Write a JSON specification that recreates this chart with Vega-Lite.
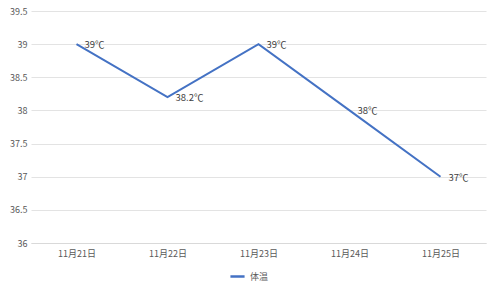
{
  "$schema": "https://vega.github.io/schema/vega-lite/v6.json",
  "width": 455,
  "height": 232,
  "autosize": {"type": "none"},
  "padding": {"left": 31, "top": 11, "right": 14, "bottom": 47},
  "background": "white",
  "config": {
    "view": {"stroke": null},
    "font": "Noto Sans CJK SC",
    "axis": {"labelFont": "Noto Sans CJK SC", "labelColor": "#595959", "labelFontSize": 9}
  },
  "data": {
    "values": [
      {"date": "11月21日", "temp": 39, "label": "39℃", "series": "体温"},
      {"date": "11月22日", "temp": 38.2, "label": "38.2℃", "series": "体温"},
      {"date": "11月23日", "temp": 39, "label": "39℃", "series": "体温"},
      {"date": "11月24日", "temp": 38, "label": "38℃", "series": "体温"},
      {"date": "11月25日", "temp": 37, "label": "37℃", "series": "体温"}
    ]
  },
  "encoding": {
    "x": {
      "field": "date", "type": "ordinal", "sort": null,
      "scale": {"type": "point", "padding": 0.5},
      "axis": {"title": null, "labelAngle": 0, "ticks": false, "domain": true, "domainColor": "#d9d9d9", "labelPadding": 6, "grid": false}
    },
    "y": {
      "field": "temp", "type": "quantitative",
      "scale": {"domain": [36, 39.5], "zero": false, "nice": false},
      "axis": {"title": null, "format": "~g", "values": [36, 36.5, 37, 37.5, 38, 38.5, 39, 39.5], "ticks": false, "domain": false, "gridColor": "#e3e3e3", "labelPadding": 4}
    }
  },
  "layer": [
    {
      "mark": {"type": "line", "strokeWidth": 2},
      "encoding": {
        "color": {
          "field": "series", "type": "nominal",
          "scale": {"range": ["#4472C4"]},
          "legend": {
            "title": null, "orient": "none", "legendX": 198, "legendY": 257,
            "symbolType": "stroke", "symbolStrokeWidth": 2.5, "symbolSize": 200,
            "labelFontSize": 9, "labelColor": "#595959", "labelFont": "Noto Sans CJK SC"
          }
        }
      }
    },
    {
      "mark": {"type": "text", "align": "left", "baseline": "middle", "dx": 8, "dy": 1, "fontSize": 9.5, "color": "#404040"},
      "encoding": {"text": {"field": "label"}}
    }
  ]
}
